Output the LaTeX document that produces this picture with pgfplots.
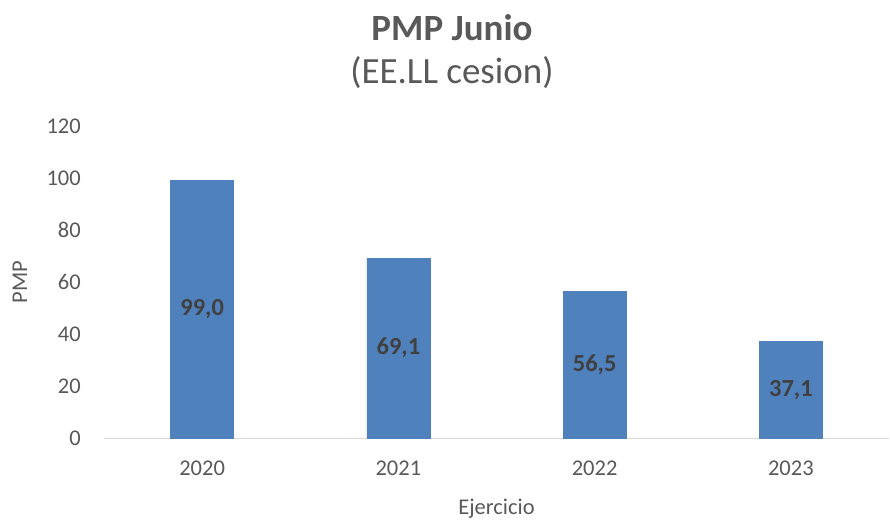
\documentclass[border=0pt]{standalone}
\usepackage{fontspec}
\setmainfont{Carlito}
\usepackage{pgfplots}
\pgfplotsset{compat=1.18}
\definecolor{barBlue}{HTML}{4F81BD}
\definecolor{txtGray}{HTML}{595959}
\definecolor{lblGray}{HTML}{404040}
\definecolor{lineGray}{HTML}{D9D9D9}

\begin{document}
\begin{tikzpicture}
  % picture frame: 890 x 522, axis box sits 104pt from left, 84pt from bottom
  \useasboundingbox (-104pt,-84pt) rectangle (786pt,438pt);
  \begin{axis}[
    at={(0,0)}, anchor=south west,
    scale only axis,
    width=785pt, height=312pt,
    ymin=0, ymax=120,
    xmin=-0.5, xmax=3.5,
    ytick={0,20,...,120},
    xtick=data,
    xticklabels={2020,2021,2022,2023},
    axis x line*=bottom, axis y line*=left,
    x axis line style={draw=lineGray, line width=1pt},
    y axis line style={draw=none},
    major tick length=0pt,
    /pgf/number format/assume math mode=true,
    tick label style={font=\fontsize{22.5}{26}\selectfont, text=txtGray},
    yticklabel style={anchor=east, inner sep=0pt, xshift=-23pt},
    xticklabel style={anchor=center, inner sep=0pt, yshift=-30pt},
    xlabel={Ejercicio},
    ylabel={PMP},
    every axis x label/.style={at={(axis description cs:0.5,0)}, anchor=center, yshift=-71pt,
      font=\fontsize{22.5}{26}\selectfont, text=txtGray},
    every axis y label/.style={at={(axis description cs:-0.107,0.5)}, anchor=center, rotate=90,
      font=\fontsize{22.5}{26}\selectfont, text=txtGray},
    ybar, bar width=63pt,
    visualization depends on={rawy \as \rawy},
    nodes near coords={\pgfmathprintnumber[fixed,fixed zerofill,precision=1,use comma]{\pgfplotspointmeta}},
    every node near coord/.append style={anchor=center, shift={(axis direction cs:0,-\rawy/2)},
      font=\bfseries\fontsize{24.5}{28}\selectfont, text=lblGray},
  ]
    \addplot[fill=barBlue, draw=barBlue] coordinates {
      (0,99.0)
      (1,69.1)
      (2,56.5)
      (3,37.1)
    };
  \end{axis}
  \node[text=txtGray, font=\bfseries\fontsize{37}{44}\selectfont] at (348pt,410pt) {PMP Junio};
  \node[text=txtGray, font=\fontsize{37}{44}\selectfont] at (348pt,365pt) {(EE.LL cesion)};
\end{tikzpicture}
\end{document}
